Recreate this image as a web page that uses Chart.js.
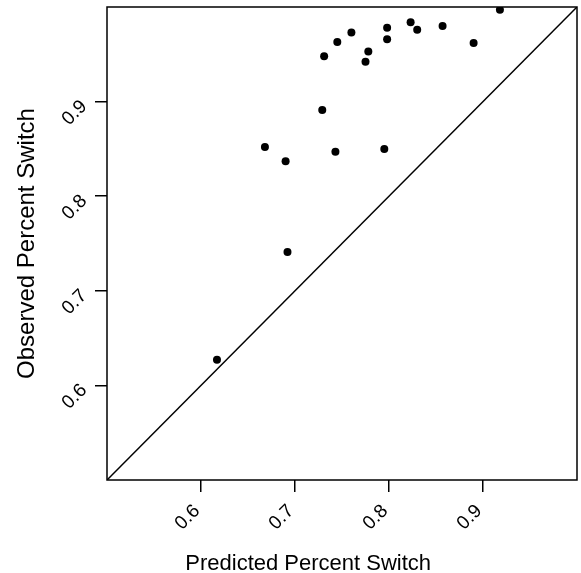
<!DOCTYPE html>
<html>
<head>
<meta charset="utf-8">
<script src="https://cdn.jsdelivr.net/npm/chart.js@4.4.1/dist/chart.umd.min.js"></script>
<style>
  html, body { margin: 0; padding: 0; background: #ffffff; }
  #wrap { width: 581px; height: 573px; }
</style>
</head>
<body>
<div id="wrap"><canvas id="c" width="581" height="573"></canvas></div>
<script>
// ---- data ----
const predicted = [0.918, 0.823, 0.830, 0.857, 0.890, 0.798, 0.798, 0.760, 0.745, 0.731,
                   0.778, 0.775, 0.729, 0.668, 0.690, 0.743, 0.795, 0.692, 0.617];
const observed  = [0.997, 0.984, 0.976, 0.980, 0.962, 0.978, 0.966, 0.973, 0.963, 0.948,
                   0.953, 0.942, 0.891, 0.852, 0.837, 0.847, 0.850, 0.741, 0.627];
const diagX = [0.5, 1.0];
const diagY = [0.5, 1.0];
const xTickValues = [0.6, 0.7, 0.8, 0.9];
const yTickValues = [0.6, 0.7, 0.8, 0.9];
const axisMin = 0.5;
const axisMax = 1.0;
const xTitle = 'Predicted Percent Switch';
const yTitle = 'Observed Percent Switch';

const FONT = "'Liberation Sans', Arial, Helvetica, sans-serif";

const points = predicted.map((p, i) => ({ x: p, y: observed[i] }));
const diagonal = diagX.map((v, i) => ({ x: v, y: diagY[i] }));

const boxPlugin = {
  id: 'boxAndTitles',
  afterDraw(chart) {
    const { ctx, chartArea: a } = chart;
    ctx.save();
    ctx.strokeStyle = '#000';
    ctx.lineWidth = 1.5;
    ctx.strokeRect(a.left, a.top, a.right - a.left, a.bottom - a.top);
    ctx.fillStyle = '#000';
    ctx.textAlign = 'center';
    ctx.textBaseline = 'alphabetic';
    ctx.font = '22px ' + FONT;
    ctx.fillText(xTitle, a.left + (a.right - a.left) * 0.428, chart.height - 3);
    ctx.font = '24px ' + FONT;
    ctx.translate(34, a.top + (a.bottom - a.top) * 0.5);
    ctx.rotate(-Math.PI / 2);
    ctx.fillText(yTitle, 0, 0);
    ctx.restore();
  }
};

function zeroPad(s) {
  s.paddingTop = 0; s.paddingBottom = 0; s.paddingLeft = 0; s.paddingRight = 0;
}

new Chart(document.getElementById('c'), {
  type: 'scatter',
  data: {
    datasets: [
      {
        type: 'line',
        data: diagonal,
        borderColor: '#000',
        borderWidth: 1.5,
        pointRadius: 0,
        fill: false,
        tension: 0
      },
      {
        type: 'scatter',
        data: points,
        backgroundColor: '#000',
        borderColor: '#000',
        borderWidth: 0,
        pointRadius: 4,
        pointHoverRadius: 4
      }
    ]
  },
  options: {
    responsive: false,
    animation: false,
    devicePixelRatio: 1,
    layout: { padding: { left: 0, right: 2, top: 7, bottom: 0 } },
    plugins: { legend: { display: false }, tooltip: { enabled: false } },
    scales: {
      x: {
        type: 'linear',
        position: 'bottom',
        min: axisMin,
        max: axisMax,
        afterBuildTicks: s => { s.ticks = xTickValues.map(v => ({ value: v })); },
        afterFit: s => { s.height = 93; zeroPad(s); },
        border: { display: false },
        grid: { display: true, drawOnChartArea: false, drawTicks: true, tickLength: 12, color: '#000', lineWidth: 1.5 },
        ticks: {
          minRotation: 45, maxRotation: 45, padding: 8, labelOffset: -4, color: '#000',
          font: { family: FONT, size: 19 },
          callback: v => String(Math.round(v * 10) / 10)
        },
        title: { display: false }
      },
      y: {
        type: 'linear',
        position: 'left',
        min: axisMin,
        max: axisMax,
        afterBuildTicks: s => { s.ticks = yTickValues.map(v => ({ value: v })); },
        afterFit: s => { s.width = 107; zeroPad(s); },
        border: { display: false },
        grid: { display: true, drawOnChartArea: false, drawTicks: true, tickLength: 12, color: '#000', lineWidth: 1.5 },
        ticks: {
          minRotation: 45, maxRotation: 45, padding: 11, labelOffset: 2, color: '#000',
          font: { family: FONT, size: 19 },
          callback: v => String(Math.round(v * 10) / 10)
        },
        title: { display: false }
      }
    }
  },
  plugins: [boxPlugin]
});
</script>
</body>
</html>
